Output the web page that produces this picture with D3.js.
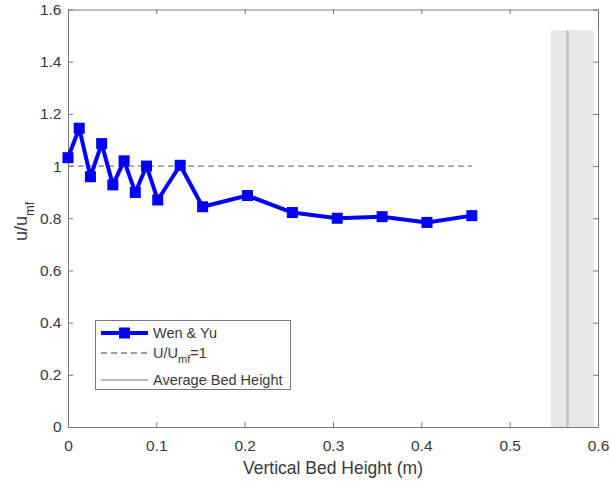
<!DOCTYPE html>
<html>
<head>
<meta charset="utf-8">
<script src="https://cdn.jsdelivr.net/npm/d3@7"></script>
<style>
  html, body { margin: 0; padding: 0; background: #fff; }
  svg { display: block; font-family: "Liberation Sans", Arial, sans-serif; }
</style>
</head>
<body>
<svg id="chart" width="611" height="484"></svg>
<script>
// ---- data ----
const heights = [0, 0.0127, 0.0254, 0.0381, 0.0508, 0.0635, 0.0762, 0.0889, 0.1016, 0.127, 0.1524, 0.2032, 0.254, 0.3048, 0.3556, 0.4064, 0.4572];
const wenYu   = [1.032, 1.145, 0.959, 1.086, 0.928, 1.02, 0.899, 1.0, 0.87, 1.003, 0.844, 0.887, 0.822, 0.80, 0.806, 0.784, 0.81];
const refLineX = [0, 0.4572];
const refLineY = 1;
const avgBedHeight = 0.5655;
const bedBand = [0.5465, 0.595];
const bedBandTop = 1.52;
const xTicks = [0, 0.1, 0.2, 0.3, 0.4, 0.5, 0.6];
const yTicks = [0, 0.2, 0.4, 0.6, 0.8, 1, 1.2, 1.4, 1.6];
const legendLabels = ["Wen & Yu", "U/U", "Average Bed Height"];

(function () {
// ---- layout ----
const svg = d3.select("#chart");
const pL = 68, pR = 598, pT = 9.5, pB = 427;
const x = d3.scaleLinear().domain([0, 0.6]).range([pL, pR]);
const y = d3.scaleLinear().domain([0, 1.6]).range([pB, pT]);
const axisColor = "#7a7a7a", textColor = "#3a3a3a";

// gray band + average bed height line
svg.append("rect")
  .attr("x", x(bedBand[0])).attr("y", y(bedBandTop))
  .attr("width", x(bedBand[1]) - x(bedBand[0]))
  .attr("height", y(0) - y(bedBandTop))
  .attr("fill", "#e6e6e6");
svg.append("line")
  .attr("x1", x(avgBedHeight)).attr("x2", x(avgBedHeight))
  .attr("y1", y(bedBandTop)).attr("y2", y(0))
  .attr("stroke", "#bdbdbd").attr("stroke-width", 2.2);

// axes
function styleAxis(g) {
  g.selectAll("path").attr("stroke", axisColor).attr("stroke-width", 1);
  g.selectAll("line").attr("stroke", axisColor).attr("stroke-width", 1);
  g.selectAll("text").attr("fill", textColor).attr("font-size", 15.5)
    .attr("font-family", "'Liberation Sans', Arial, sans-serif");
}
const fmt = d => String(d);
svg.append("g").attr("transform", `translate(0,${pB})`)
  .call(d3.axisBottom(x).tickValues(xTicks).tickFormat(fmt).tickSizeInner(-5).tickSizeOuter(0).tickPadding(13))
  .call(styleAxis);
svg.append("g").attr("transform", `translate(0,${pT})`)
  .call(d3.axisTop(x).tickValues(xTicks).tickFormat("").tickSizeInner(-5).tickSizeOuter(0))
  .call(styleAxis);
svg.append("g").attr("transform", `translate(${pL},0)`)
  .call(d3.axisLeft(y).tickValues(yTicks).tickFormat(fmt).tickSizeInner(-5).tickSizeOuter(0).tickPadding(6.5))
  .call(styleAxis);
svg.append("g").attr("transform", `translate(${pR},0)`)
  .call(d3.axisRight(y).tickValues(yTicks).tickFormat("").tickSizeInner(-5).tickSizeOuter(0))
  .call(styleAxis);

// reference dashed line
svg.append("line")
  .attr("x1", x(refLineX[0])).attr("x2", x(refLineX[1]))
  .attr("y1", y(refLineY)).attr("y2", y(refLineY))
  .attr("stroke", "#7f7f7f").attr("stroke-width", 1.3).attr("stroke-dasharray", "6,4");

// data series
const pts = heights.map((h, i) => [h, wenYu[i]]);
svg.append("path")
  .attr("d", d3.line().x(d => x(d[0])).y(d => y(d[1]))(pts))
  .attr("fill", "none").attr("stroke", "#0000ff").attr("stroke-width", 4)
  .attr("stroke-linejoin", "round");
const ms = 11;
svg.append("g").selectAll("rect").data(pts).join("rect")
  .attr("x", d => x(d[0]) - ms / 2).attr("y", d => y(d[1]) - ms / 2)
  .attr("width", ms).attr("height", ms).attr("fill", "#0000ff");

// axis labels
svg.append("text").attr("x", (pL + pR) / 2).attr("y", 473.5)
  .attr("text-anchor", "middle").attr("font-size", 17.5).attr("fill", textColor)
  .text("Vertical Bed Height (m)");
const yl = svg.append("text").attr("transform", `translate(27,${(pT + pB) / 2 + 3}) rotate(-90)`)
  .attr("text-anchor", "middle").attr("font-size", 18).attr("fill", textColor);
yl.append("tspan").text("u/u");
yl.append("tspan").attr("font-size", 13).attr("dy", 7).text("mf");

// legend
const lg = svg.append("g");
lg.append("rect").attr("x", 95.5).attr("y", 320.5).attr("width", 195).attr("height", 69)
  .attr("fill", "#fff").attr("stroke", "#7a7a7a").attr("stroke-width", 1);
const rowY = [333, 353, 380];
lg.append("line").attr("x1", 101).attr("x2", 148).attr("y1", rowY[0]).attr("y2", rowY[0])
  .attr("stroke", "#0000ff").attr("stroke-width", 4);
lg.append("rect").attr("x", 124.5 - ms / 2).attr("y", rowY[0] - ms / 2).attr("width", ms).attr("height", ms).attr("fill", "#0000ff");
lg.append("line").attr("x1", 101).attr("x2", 148).attr("y1", rowY[1]).attr("y2", rowY[1])
  .attr("stroke", "#7f7f7f").attr("stroke-width", 1.3).attr("stroke-dasharray", "6,4");
lg.append("line").attr("x1", 101).attr("x2", 148).attr("y1", rowY[2]).attr("y2", rowY[2])
  .attr("stroke", "#bdbdbd").attr("stroke-width", 2.2);
const tOpts = (t, yy) => t.attr("x", 153).attr("y", yy + 5).attr("font-size", 14.5).attr("fill", textColor);
tOpts(lg.append("text"), rowY[0]).text(legendLabels[0]);
const t2 = tOpts(lg.append("text"), rowY[1]);
t2.append("tspan").text(legendLabels[1]);
t2.append("tspan").attr("font-size", 11).attr("dy", 5).text("mf");
t2.append("tspan").attr("dy", -5).text("=1");
tOpts(lg.append("text"), rowY[2]).text(legendLabels[2]);
})();
</script>
</body>
</html>
